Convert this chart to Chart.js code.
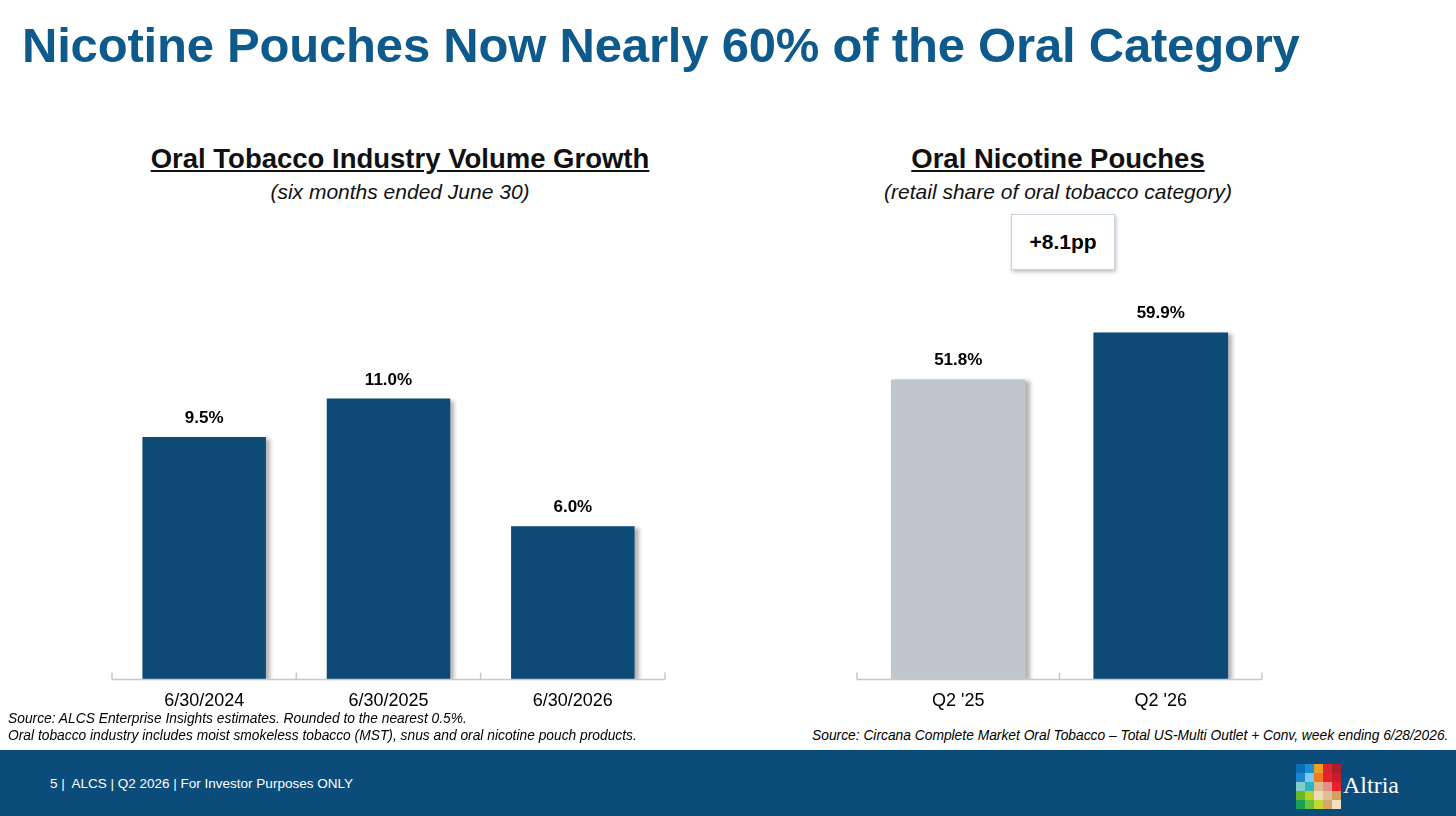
<!DOCTYPE html>
<html><head><meta charset="utf-8">
<script src="https://cdn.jsdelivr.net/npm/chart.js@4"></script>
<style>
body{margin:0;width:1456px;height:816px;position:relative;background:#fff;font-family:"Liberation Sans",Arial,sans-serif;overflow:hidden}
.abs{position:absolute}
h1{position:absolute;left:22px;top:17px;margin:0;font-size:49px;color:#0e5a8c;font-weight:bold;letter-spacing:-0.2px}
.ct{font-size:27.5px;font-weight:bold;text-decoration:underline;color:#111;text-align:center}
.cs{font-size:21px;font-style:italic;color:#111;text-align:center}
.src{font-size:13.8px;font-style:italic;color:#000;line-height:17px}
.foot{left:0;top:750px;width:1456px;height:66px;background:#0c4c7a}
.logo{display:grid;grid-template-columns:repeat(5,9px);grid-auto-rows:9px;left:1296px;top:764px}
</style></head><body>
<h1>Nicotine Pouches Now Nearly 60% of the Oral Category</h1>
<div class="abs ct" style="left:100px;top:143px;width:600px">Oral Tobacco Industry Volume Growth</div>
<div class="abs cs" style="left:100px;top:180px;width:600px">(six months ended June 30)</div>
<div class="abs ct" style="left:758px;top:143px;width:600px">Oral Nicotine Pouches</div>
<div class="abs cs" style="left:758px;top:180px;width:600px">(retail share of oral tobacco category)</div>
<div class="abs" style="left:1011px;top:214px;width:102px;height:54px;border:1px solid #c9d3de;box-shadow:1px 2px 4px rgba(0,0,0,0.25);font-size:21px;font-weight:bold;line-height:54px;text-align:center">+8.1pp</div>
<div class="abs" style="left:0;top:195px;width:720px;height:520px"><canvas id="c1"></canvas></div>
<div class="abs" style="left:745px;top:195px;width:630px;height:520px"><canvas id="c2"></canvas></div>
<div class="abs src" style="left:8px;top:710px">Source: ALCS Enterprise Insights estimates. Rounded to the nearest 0.5%.<br>Oral tobacco industry includes moist smokeless tobacco (MST), snus and oral nicotine pouch products.</div>
<div class="abs src" style="left:812px;top:727px">Source: Circana Complete Market Oral Tobacco – Total US-Multi Outlet + Conv, week ending 6/28/2026.</div>
<div class="abs foot"></div>
<div class="abs" style="left:50px;top:776px;font-size:13.5px;color:#fff">5 |&nbsp; ALCS | Q2 2026 | For Investor Purposes ONLY</div>
<div class="abs logo" id="logo"></div>
<div class="abs" style="left:1343px;top:772px;font-family:'Liberation Serif',serif;font-size:24px;color:#fff">Altria</div>
<script>
const leftLabels = ['6/30/2024', '6/30/2025', '6/30/2026'];
const leftValues = [9.5, 11.0, 6.0];
const rightLabels = ["Q2 '25", "Q2 '26"];
const rightValues = [51.8, 59.9];
const rightColors = ['#bfc6ce', '#0d4a75'];

const logoColors = ['#0b6fb5','#1a8fd6','#f0a020','#d8252e','#b01c28',
  '#1b86cc','#7cc8ef','#f07a20','#e8202c','#c81e2c',
  '#7fcfc8','#2bb5c0','#e2b890','#e09088','#e8202c',
  '#6ab82e','#b8d22a','#eedcb8','#e0c090','#d4a060',
  '#18a050','#6cc040','#c0d830','#d4a868','#f0e0c0'];
const logo = document.getElementById('logo');
logoColors.forEach(c => { const d = document.createElement('div'); d.style.background = c; logo.appendChild(d); });

const decor = {
  id: 'decor',
  beforeDatasetsDraw(chart) {
    const ctx = chart.ctx;
    ctx.save();
    ctx.shadowColor = 'rgba(0,0,0,0.3)'; ctx.shadowOffsetX = 4; ctx.shadowOffsetY = 2; ctx.shadowBlur = 4;
  },
  afterDatasetsDraw(chart) {
    const ctx = chart.ctx, a = chart.chartArea;
    ctx.restore();
    ctx.save();
    ctx.strokeStyle = '#c8c8c8'; ctx.lineWidth = 1.5;
    ctx.beginPath(); ctx.moveTo(a.left, a.bottom); ctx.lineTo(a.right, a.bottom);
    const n = chart.data.labels.length, w = (a.right - a.left) / n;
    for (let i = 0; i <= n; i++) { const px = a.left + i * w; ctx.moveTo(px, a.bottom); ctx.lineTo(px, a.bottom - 7); }
    ctx.stroke();
    ctx.fillStyle = '#000'; ctx.font = 'bold 17px "Liberation Sans"'; ctx.textAlign = 'center';
    chart.getDatasetMeta(0).data.forEach((b, i) => {
      ctx.fillText(chart.data.datasets[0].data[i].toFixed(1) + '%', b.x, b.y - 14);
    });
    ctx.restore();
  }
};

function make(id, labels, values, colors, max, pct, pad) {
  new Chart(document.getElementById(id), {
    type: 'bar',
    data: { labels, datasets: [{ data: values, backgroundColor: colors, barPercentage: pct, categoryPercentage: 1 }] },
    options: {
      responsive: true, maintainAspectRatio: false, animation: false,
      layout: { padding: pad },
      plugins: { legend: { display: false }, tooltip: { enabled: false } },
      scales: {
        x: { grid: { display: false }, border: { display: false },
             ticks: { color: '#000', font: { size: 18, family: 'Liberation Sans' }, padding: 3 } },
        y: { display: false, min: 0, max }
      }
    },
    plugins: [decor]
  });
}
make('c1', leftLabels, leftValues, '#0d4a75', 14, 0.67, { left: 112, right: 55, top: 127, bottom: 0 });
make('c2', rightLabels, rightValues, rightColors, 70, 0.665, { left: 112, right: 113, top: 79, bottom: 0 });
</script>
</body></html>
